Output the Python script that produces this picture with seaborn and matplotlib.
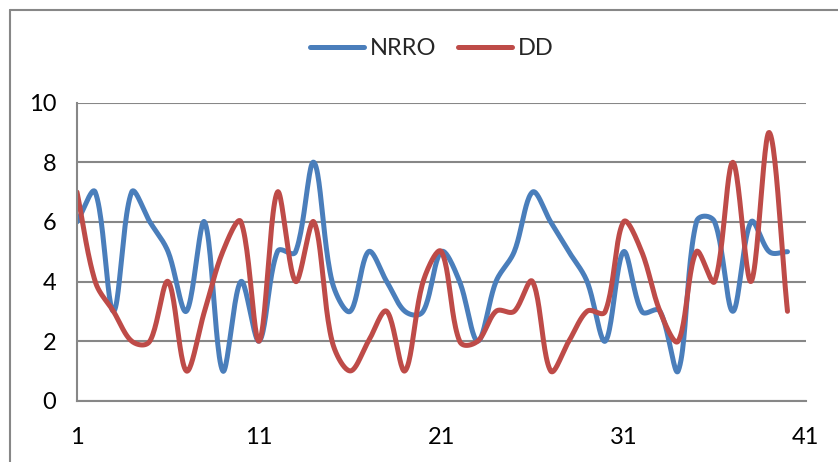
import numpy as np
import pandas as pd
import seaborn as sns
import matplotlib.pyplot as plt
from matplotlib.lines import Line2D

# valores (pontos 1..40)
pontos = list(range(1, 41))
nrro = [6, 7, 3, 7, 6, 5, 3, 6, 1, 4,
        2, 5, 5, 8, 4, 3, 5, 4, 3, 3,
        5, 4, 2, 4, 5, 7, 6, 5, 4, 2,
        5, 3, 3, 1, 6, 6, 3, 6, 5, 5]
dd = [7, 4, 3, 2, 2, 4, 1, 3, 5, 6,
      2, 7, 4, 6, 2, 1, 2, 3, 1, 4,
      5, 2, 2, 3, 3, 4, 1, 2, 3, 3,
      6, 5, 3, 2, 5, 4, 8, 4, 9, 3]
xticks = [1, 11, 21, 31, 41]
yticks = [0, 2, 4, 6, 8, 10]

cor_nrro = '#4A7EBB'
cor_dd = '#BE4B48'
cinza = '#878787'


def suavizar(x, y, n=24):
    # linha suavizada tipo Excel: bezier com tangente ponderada pelo tamanho dos segmentos
    p = np.column_stack([x, y]).astype(float)
    p = np.vstack([p[0], p, p[-1]])
    saida = []
    t = np.linspace(0, 1, n, endpoint=False)[:, None]
    for i in range(1, len(p) - 2):
        p0, p1, p2, p3 = p[i - 1], p[i], p[i + 1], p[i + 2]
        d01 = np.linalg.norm(p1 - p0)
        d12 = np.linalg.norm(p2 - p1)
        d23 = np.linalg.norm(p3 - p2)
        b1 = p1 + (p2 - p0) * (d12 / (d01 + d12)) / 3
        b2 = p2 - (p3 - p1) * (d12 / (d12 + d23)) / 3
        seg = ((1 - t) ** 3) * p1 + 3 * ((1 - t) ** 2) * t * b1 + 3 * (1 - t) * t ** 2 * b2 + t ** 3 * p2
        saida.append(seg)
    saida.append(p[-2][None, :])
    saida = np.vstack(saida)
    return saida[:, 0], saida[:, 1]


frames = []
for nome, serie in [('NRRO', nrro), ('DD', dd)]:
    xs, ys = suavizar(pontos, serie)
    frames.append(pd.DataFrame({'x': xs, 'y': ys, 'serie': nome}))
df = pd.concat(frames, ignore_index=True)

sns.set_style('white')
plt.rcParams['font.family'] = ['Lato', 'DejaVu Sans']

fig = plt.figure(figsize=(8.38, 4.62), dpi=100)
ax = fig.add_axes([77 / 838, 61.3 / 462, 728.7 / 838, 298 / 462])

sns.lineplot(data=df, x='x', y='y', hue='serie', palette={'NRRO': cor_nrro, 'DD': cor_dd},
             estimator=None, sort=False, linewidth=3.6, ax=ax, legend=False)

ax.set_xlim(1, 41)
ax.set_ylim(0, 10)
ax.set_xticks(xticks)
ax.set_yticks(yticks)
ax.set_xticklabels([str(v) for v in xticks])
ax.set_yticklabels([str(v) for v in yticks])
ax.set_xlabel('')
ax.set_ylabel('')
ax.tick_params(axis='both', labelsize=17, colors='black', length=5, width=1.5, color=cinza)
ax.tick_params(axis='x', pad=14)
ax.tick_params(axis='y', pad=10)
ax.grid(axis='y', color=cinza, linewidth=1.5)
ax.set_axisbelow(True)
for lado in ['top', 'right']:
    ax.spines[lado].set_visible(False)
for lado in ['left', 'bottom']:
    ax.spines[lado].set_color(cinza)
    ax.spines[lado].set_linewidth(1.5)

handles = [Line2D([], [], color=cor_nrro, linewidth=3.6),
           Line2D([], [], color=cor_dd, linewidth=3.6)]
fig.legend(handles, ['NRRO', 'DD'], loc='center', bbox_to_anchor=(0.515, 0.894), ncol=2,
           frameon=False, fontsize=17, handlelength=2.3, handletextpad=0.25, columnspacing=0.9)

# borda do grafico (cortada a direita e embaixo)
fig.add_artist(Line2D([9.5 / 838, 9.5 / 838], [0, 1 - 9.5 / 462], transform=fig.transFigure,
                      color=cinza, linewidth=1.5))
fig.add_artist(Line2D([9.5 / 838, 1], [1 - 9.5 / 462, 1 - 9.5 / 462], transform=fig.transFigure,
                      color=cinza, linewidth=1.5))

fig.savefig('out.png', dpi=100)
